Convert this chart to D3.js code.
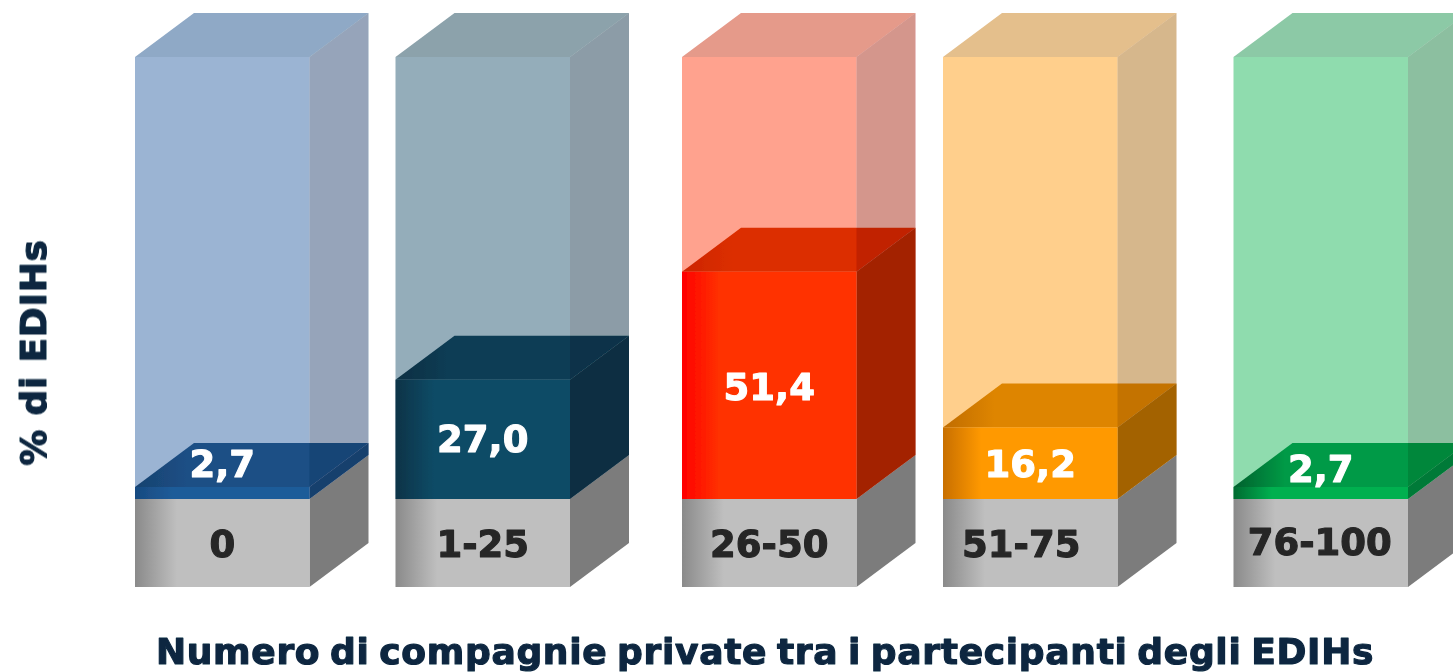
<!DOCTYPE html>
<html>
<head>
<meta charset="utf-8">
<script src="https://cdn.jsdelivr.net/npm/d3@7"></script>
<style>
  html, body { margin: 0; padding: 0; background: #fff; overflow: hidden; }
  text { font-family: "DejaVu Sans", sans-serif; font-weight: 700; paint-order: stroke; stroke-linejoin: round; }
</style>
</head>
<body>
<div id="chart"></div>
<script>
// data
var categories = ["0", "1-25", "26-50", "51-75", "76-100"];
var values = [2.7, 27.0, 51.4, 16.2, 2.7];
var valueLabels = ["2,7", "27,0", "51,4", "16,2", "2,7"];
var xTitle = "Numero di compagnie private tra i partecipanti degli EDIHs";
var yTitle = "% di EDIHs";

// colours, one row per bar
var frontColors = ["#1f5c99", "#114b66", "#ff3300", "#ff9900", "#00b050"];
var frontDark = ["#174a80", "#0a3347", "#ff0000", "#c86f00", "#006a30"];
var topColors = ["#1c4f85", "#0e3c54", "#dc2f00", "#de8500", "#009a46"];
var topDark = ["#17426f", "#0a2f42", "#cc2400", "#c06c00", "#00602c"];
var sideColors = ["#173f6d", "#0b2e42", "#a32200", "#a36200", "#007a37"];
var ghostFront = ["#9bb4d3", "#94adba", "#ffa28e", "#ffcf8c", "#8fdcae"];
var ghostTop = ["#8fa9c6", "#8ca2ab", "#e59a8a", "#e4bf8c", "#8cc9a6"];
var ghostSide = ["#113764", "#00283c", "#a01400", "#a45d00", "#07712f"];

var width = 1453, height = 672;
var barWidth = 174.5, depthX = 59, depthY = 44, baseHeight = 88;

// bars are not evenly spaced in the picture
var x = d3.scaleOrdinal().domain(categories).range([135, 395.5, 682, 943, 1233.5]);
var y = d3.scaleLinear().domain([0, 100]).range([499, 57]);

var svg = d3.select("#chart").append("svg")
    .attr("width", width)
    .attr("height", height)
    .style("display", "block");

var defs = svg.append("defs");
defs.append("filter").attr("id", "soft")
  .append("feGaussianBlur").attr("stdDeviation", 0.6);

function gradient(id, dark, light, stop) {
  var g = defs.append("linearGradient").attr("id", id);
  g.append("stop").attr("offset", 0).attr("stop-color", dark);
  g.append("stop").attr("offset", stop).attr("stop-color", light);
}
gradient("base-front", "#8a8a8a", "#bfbfbf", 0.24);
categories.forEach(function(c, i) {
  gradient("front-" + i, frontDark[i], frontColors[i], 0.22);
  gradient("top-" + i, topDark[i], topColors[i], 0.22);
});

function poly(g, pts, fill, opacity) {
  g.append("path")
    .attr("d", d3.line()(pts) + "Z")
    .attr("fill", fill)
    .attr("fill-opacity", opacity === undefined ? 1 : opacity);
}
function frontFace(l, t, b) { return [[l, t], [l + barWidth, t], [l + barWidth, b], [l, b]]; }
function topFace(l, t) { return [[l, t], [l + barWidth, t], [l + barWidth + depthX, t - depthY], [l + depthX, t - depthY]]; }
function sideFace(l, t, b) {
  var r = l + barWidth;
  return [[r, t], [r + depthX, t - depthY], [r + depthX, b - depthY], [r, b]];
}

var plot = svg.append("g").attr("filter", "url(#soft)");

categories.forEach(function(c, i) {
  var g = plot.append("g");
  var l = x(c), y0 = y(0), yTop = y(100), yVal = y(values[i]);

  // grey foot
  poly(g, sideFace(l, y0, y0 + baseHeight), "#7c7c7c");
  poly(g, frontFace(l, y0, y0 + baseHeight), "url(#base-front)");

  // pale full-height box
  poly(g, frontFace(l, yTop, y0), ghostFront[i]);
  poly(g, topFace(l, yTop), ghostTop[i]);

  // value box, the pale side sits over the back of its top face
  poly(g, topFace(l, yVal), "url(#top-" + i + ")");
  poly(g, sideFace(l, yTop, y0), ghostSide[i], 0.45);
  poly(g, sideFace(l, yVal, y0), sideColors[i]);
  poly(g, frontFace(l, yVal, y0), "url(#front-" + i + ")");
});

// labels
var labelDy = d3.scaleOrdinal().domain(categories).range([-29, 0, 2, 1, -24]);
var catDx = d3.scaleOrdinal().domain(categories).range([0, 0, 0, -9, -1]);
var catDy = d3.scaleOrdinal().domain(categories).range([0, 0, 0, 0, -2]);

plot.selectAll(".value").data(categories).enter().append("text")
    .attr("class", "value")
    .attr("x", function(c) { return x(c) + barWidth / 2; })
    .attr("y", function(c, i) { return (y(values[i]) + y(0)) / 2 + labelDy(c); })
    .attr("text-anchor", "middle")
    .attr("dominant-baseline", "central")
    .attr("fill", "#fff")
    .attr("stroke", "#fff")
    .attr("stroke-width", 1.1)
    .style("font-size", "37px")
    .text(function(c, i) { return valueLabels[i]; });

plot.selectAll(".cat").data(categories).enter().append("text")
    .attr("class", "cat")
    .attr("x", function(c) { return x(c) + barWidth / 2 + catDx(c); })
    .attr("y", function(c) { return y(0) + 45 + catDy(c); })
    .attr("text-anchor", "middle")
    .attr("dominant-baseline", "central")
    .attr("fill", "#262626")
    .attr("stroke", "#262626")
    .attr("stroke-width", 1.1)
    .style("font-size", "37px")
    .text(function(c) { return c; });

plot.append("text")
    .attr("x", 765)
    .attr("y", 651)
    .attr("text-anchor", "middle")
    .attr("dominant-baseline", "central")
    .attr("fill", "#0e2841")
    .attr("stroke", "#0e2841")
    .attr("stroke-width", 1.2)
    .style("font-size", "36px")
    .style("letter-spacing", "0.7px")
    .style("word-spacing", "-3.5px")
    .text(xTitle);

plot.append("text")
    .attr("transform", "translate(33,352.5) rotate(-90)")
    .attr("text-anchor", "middle")
    .attr("dominant-baseline", "central")
    .attr("fill", "#0e2841")
    .attr("stroke", "#0e2841")
    .attr("stroke-width", 1.2)
    .style("font-size", "36px")
    .style("letter-spacing", "0.8px")
    .text(yTitle);
</script>
</body>
</html>
